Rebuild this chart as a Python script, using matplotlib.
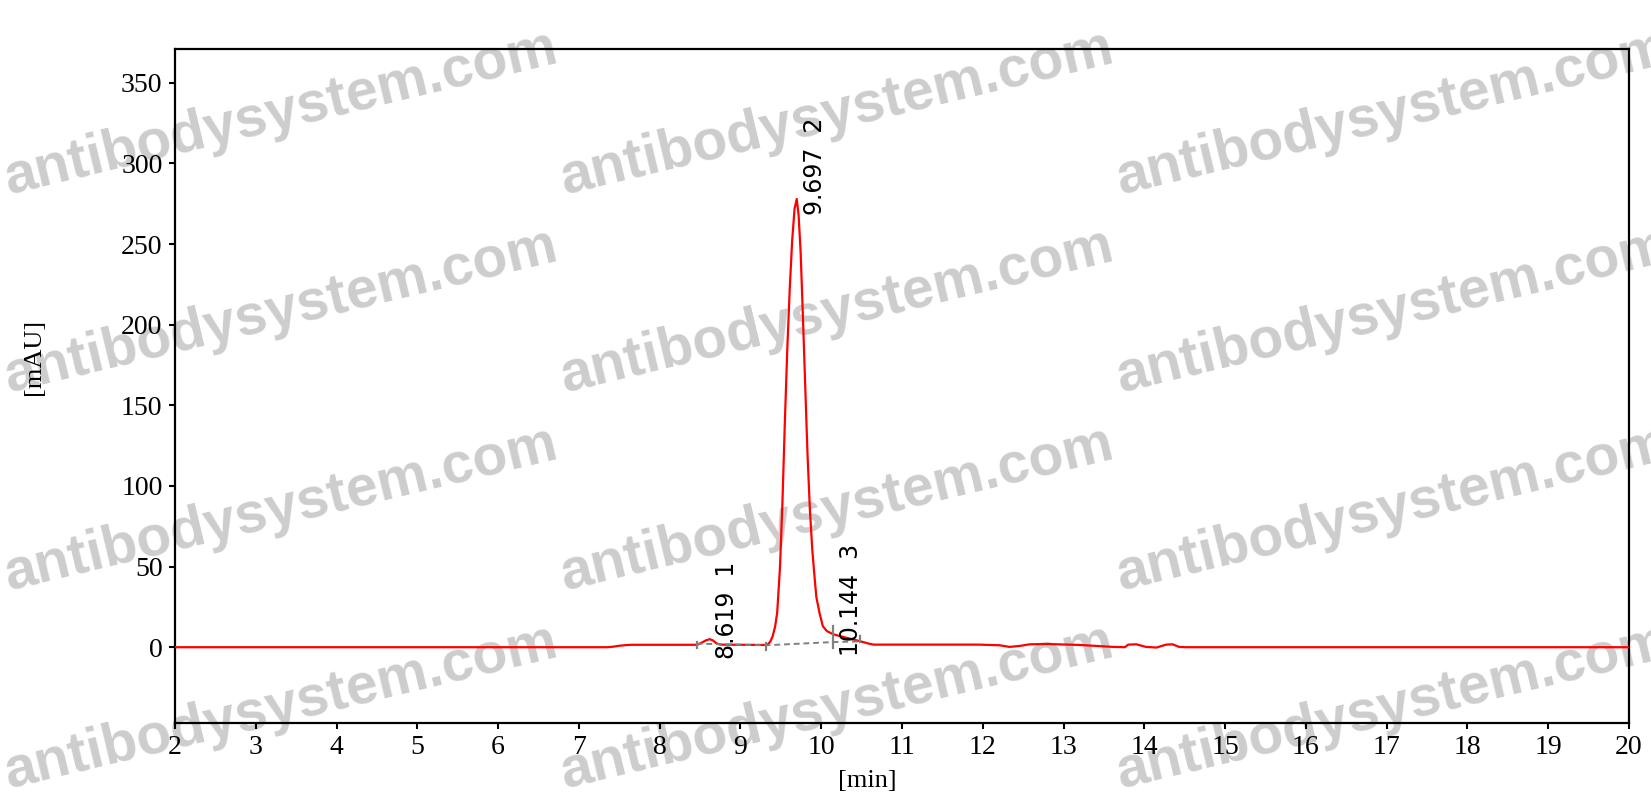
import matplotlib
matplotlib.use("Agg")
import matplotlib.pyplot as plt

# ---------------- data ----------------
time_min = [2.0, 7.35, 7.42, 7.50, 7.58, 7.65, 8.45, 8.47, 8.52, 8.57, 8.62, 8.66, 8.70, 8.75,
            9.30, 9.34, 9.37, 9.40, 9.43, 9.455, 9.49, 9.52, 9.55, 9.58, 9.61, 9.64, 9.67, 9.697,
            9.72, 9.745, 9.77, 9.80, 9.83, 9.86, 9.89, 9.92, 9.94, 9.98, 10.02, 10.07, 10.15,
            10.30, 10.46, 10.59, 10.65, 11.96, 12.21, 12.33, 12.46, 12.58, 12.79, 13.20, 13.61,
            13.76, 13.80, 13.90, 14.02, 14.15, 14.27, 14.35, 14.43, 14.51, 20.0]
signal_mau = [0.0, 0.0, 0.3, 0.9, 1.3, 1.5, 1.5, 1.6, 2.8, 4.2, 5.0, 4.2, 2.5, 1.6,
              1.4, 1.8, 3.5, 7.0, 13.0, 21.5, 50.0, 90.0, 140.0, 185.0, 222.0, 252.0, 272.0, 278.0,
              268.0, 245.0, 210.0, 165.0, 120.0, 85.0, 60.0, 42.0, 31.0, 21.0, 13.0, 10.0, 8.0,
              6.0, 4.0, 2.2, 1.6, 1.6, 1.2, 0.2, 0.8, 1.8, 2.0, 1.4, 0.2,
              0.0, 1.6, 1.8, 0.2, -0.2, 1.6, 1.8, 0.2, 0.0, 0.0]

# integration baseline (dashed) segments
base_t = [8.457, 9.32, 10.147, 10.48]
base_v = [2.2, 1.2, 3.2, 3.6]

# peak boundary markers: (time, low, high)
mark_t = [8.457, 9.32, 10.147, 10.48]
mark_lo = [-0.5, -1.5, -0.5, 3.0]
mark_hi = [3.5, 2.5, 13.0, 7.0]

# peak labels
peak_rt = [8.619, 9.697, 10.144]
peak_id = [1, 2, 3]
label_v = [-7.6, 268.0, -5.5]

x_ticks = list(range(2, 21))
y_ticks = [0, 50, 100, 150, 200, 250, 300, 350]
x_label = "[min]"
y_label = "[mAU]"
watermark = "antibodysystem.com"

# ---------------- figure ----------------
W, H = 1651, 809
fig = plt.figure(figsize=(W / 100, H / 100), dpi=100)
ax = fig.add_axes([175 / W, 1 - 723 / H, (1629 - 175) / W, (723 - 49) / H])
ax.set_facecolor("none")

ax.plot(time_min, signal_mau, color="#ff0000", lw=1.6, zorder=3)
ax.plot(base_t, base_v, color="#808080", lw=1.4, ls=(0, (3, 2)), zorder=4)
for t, lo, hi in zip(mark_t, mark_lo, mark_hi):
    ax.plot([t, t], [lo, hi], color="#808080", lw=1.6, zorder=4)

for rt, pid, lv in zip(peak_rt, peak_id, label_v):
    ax.text(rt + 0.22, lv, f"{rt:.3f}  {pid}", rotation=90, ha="center", va="bottom",
            fontsize=17, family="DejaVu Sans", color="black", zorder=5)

ax.set_xlim(2, 20)
ax.set_ylim(-47, 371)
ax.set_xticks(x_ticks)
ax.set_yticks(y_ticks)
ax.tick_params(direction="out", length=4, width=1.5, pad=5, labelsize=20)
for lab in ax.get_xticklabels() + ax.get_yticklabels():
    lab.set_family("Liberation Serif")
for s in ax.spines.values():
    s.set_linewidth(1.6)

fig.text(867 / W, 1 - 781 / H, x_label, ha="center", va="center",
         fontsize=19, family="Liberation Serif")
fig.text(34 / W, 1 - 357 / H, y_label, ha="center", va="center", rotation=90,
         fontsize=19, family="Liberation Serif")

# watermark grid
for cx in [281, 837, 1393]:
    for cy in [114, 312, 510, 708]:
        fig.text(cx / W, 1 - cy / H, watermark, ha="center", va="center",
                 rotation=13.5, rotation_mode="anchor", fontsize=41, fontweight="bold",
                 family="Liberation Sans", color="#cdcdcd", zorder=-1)

fig.savefig("out.png", dpi=100)
